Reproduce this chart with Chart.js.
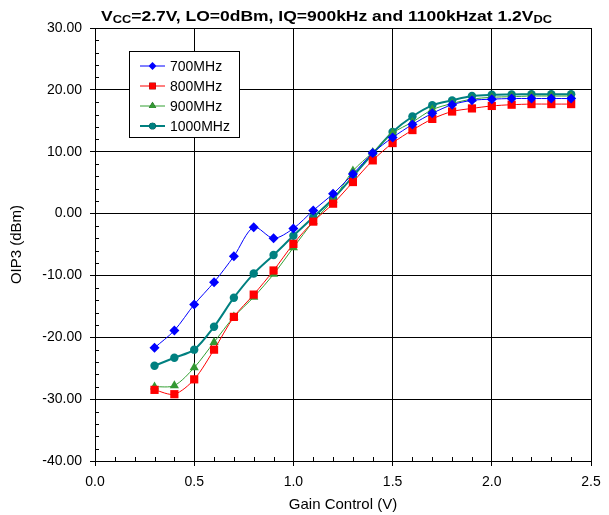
<!DOCTYPE html>
<html>
<head>
<meta charset="utf-8">
<script src="https://cdn.jsdelivr.net/npm/chart.js@4.4.1/dist/chart.umd.min.js"></script>
<style>
  html, body { margin: 0; padding: 0; background: #fff; }
  #wrap { width: 609px; height: 515px; position: relative; }
</style>
</head>
<body>
<div id="wrap"><canvas id="c" width="609" height="515"></canvas></div>
<script>
const gainControl = [0.3,0.4,0.5,0.6,0.7,0.8,0.9,1.0,1.1,1.2,1.3,1.4,1.5,1.6,1.7,1.8,1.9,2.0,2.1,2.2,2.3,2.4];
const s700  = [-21.7,-18.9,-14.7,-11.1,-6.9,-2.2,-4.0,-2.4,0.5,3.2,6.4,9.8,12.3,14.4,16.2,17.6,18.3,18.5,18.6,18.6,18.6,18.6];
const s800  = [-28.5,-29.2,-26.8,-22.0,-16.7,-13.1,-9.2,-4.9,-1.3,1.6,5.1,8.6,11.4,13.5,15.3,16.5,17.0,17.4,17.6,17.7,17.7,17.7];
const s900  = [-28.0,-27.8,-24.9,-20.8,-16.7,-13.5,-9.8,-5.5,-1.3,2.2,6.9,9.9,13.0,14.8,16.8,17.8,18.5,18.8,18.9,19.0,19.0,19.0];
const s1000 = [-24.6,-23.3,-22.0,-18.3,-13.6,-9.7,-6.7,-3.6,-0.6,2.4,6.0,9.7,13.2,15.7,17.5,18.3,19.0,19.2,19.25,19.3,19.3,19.3];
const seriesLabels = ['700MHz','800MHz','900MHz','1000MHz'];
const xTicks = [0.0,0.5,1.0,1.5,2.0,2.5];
const yTicks = [-40,-30,-20,-10,0,10,20,30];

const FONT = '"Liberation Sans", Arial, sans-serif';
const toPts = arr => arr.map((v,i) => ({x: gainControl[i], y: v}));

const styles = [
  {color:'#0000FF', line:'#0000FF', pt:'rectRot', r:5, bw:1},
  {color:'#FF0000', line:'#FF0000', pt:'rect', r:5.8, bw:1},
  {color:'#339933', line:'#33A033', pt:'triangle', r:5.3, bw:1},
  {color:'#008080', line:'#008080', pt:'circle', r:4.2, bw:2}
];
const allSeries = [s700, s800, s900, s1000];

const datasets = allSeries.map((s,i) => ({
  label: seriesLabels[i],
  data: toPts(s),
  borderColor: styles[i].line,
  backgroundColor: styles[i].color,
  borderWidth: styles[i].bw,
  pointStyle: styles[i].pt,
  pointRadius: styles[i].r,
  pointBorderWidth: 0,
  pointBackgroundColor: styles[i].color,
  tension: 0.3
}));

const decor = {
  id: 'decor',
  afterDraw(chart) {
    const ctx = chart.ctx;
    const xs = chart.scales.x, ys = chart.scales.y;
    const a = chart.chartArea;
    ctx.save();
    // minor ticks
    ctx.strokeStyle = '#000'; ctx.lineWidth = 1;
    ctx.beginPath();
    for (let k = 1; k < 25; k++) {
      if (k % 5 === 0) continue;
      const px = Math.round(xs.getPixelForValue(k/10)) + 0.5;
      ctx.moveTo(px, a.bottom); ctx.lineTo(px, a.bottom - 4);
    }
    for (let v = -38; v < 30; v += 2) {
      if (v % 10 === 0) continue;
      const py = Math.round(ys.getPixelForValue(v)) + 0.5;
      ctx.moveTo(a.left, py); ctx.lineTo(a.left + 4, py);
    }
    ctx.stroke();
    // title with subscripts
    const parts = [
      ['V', 0], ['CC', 1], ['=2.7V, LO=0dBm, IQ=900kHz and 1100kHzat 1.2V', 0], ['DC', 1]
    ];
    const big = 'bold 15px ' + FONT, small = 'bold 11px ' + FONT;
    let w = 0;
    parts.forEach(p => { ctx.font = p[1] ? small : big; w += ctx.measureText(p[0]).width; });
    const targetW = 451, startX = 101;
    const sx = targetW / w;
    ctx.save();
    ctx.translate(startX, 0);
    ctx.scale(sx, 1);
    let x = 0;
    const base = 20.5;
    ctx.fillStyle = '#000'; ctx.textBaseline = 'alphabetic'; ctx.textAlign = 'left';
    parts.forEach(p => {
      ctx.font = p[1] ? small : big;
      ctx.fillText(p[0], x, p[1] ? base + 2.5 : base);
      x += ctx.measureText(p[0]).width;
    });
    ctx.restore();
    // legend
    const lx = 129, ly = 51, lw = 110, lh = 86;
    ctx.fillStyle = '#fff';
    ctx.fillRect(lx, ly, lw, lh);
    ctx.strokeStyle = '#000'; ctx.lineWidth = 1;
    ctx.strokeRect(lx + 0.5, ly + 0.5, lw, lh);
    ctx.font = '14px ' + FONT;
    ctx.textBaseline = 'middle';
    chart.data.datasets.forEach((ds, i) => {
      const yy = 66 + i * 20;
      ctx.strokeStyle = ds.borderColor; ctx.lineWidth = ds.borderWidth;
      ctx.beginPath(); ctx.moveTo(140, yy); ctx.lineTo(165, yy); ctx.stroke();
      Chart.helpers.drawPoint(ctx, {pointStyle: ds.pointStyle, radius: ds.pointRadius * 0.8, borderWidth: 0, rotation: 0}, 152.5, yy);
      ctx.fillStyle = ds.pointBackgroundColor;
      ctx.fill();
      ctx.fillStyle = '#000';
      ctx.fillText(ds.label, 170, yy + 1);
    });
    ctx.restore();
  }
};

new Chart(document.getElementById('c'), {
  type: 'line',
  data: { datasets },
  options: {
    responsive: false,
    animation: false,
    devicePixelRatio: 1,
    layout: { padding: { left: 0, top: 28, right: 18, bottom: 0 } },
    plugins: { legend: { display: false }, title: { display: false }, tooltip: { enabled: false } },
    scales: {
      x: {
        type: 'linear', min: 0, max: 2.5,
        afterBuildTicks: s => { s.ticks = xTicks.map(v => ({value: v})); },
        afterFit: s => { s.height = 54; },
        grid: { color: '#000', lineWidth: 1, tickLength: 5, drawTicks: true },
        border: { color: '#000', width: 1 },
        ticks: { color: '#000', font: { family: FONT, size: 14 }, padding: 8, maxRotation: 0, callback: v => Number(v).toFixed(1) },
        title: { display: true, text: 'Gain Control (V)', color: '#000', font: { family: FONT, size: 15 }, padding: { top: 2, bottom: 1 } }
      },
      y: {
        type: 'linear', min: -40, max: 30,
        afterBuildTicks: s => { s.ticks = yTicks.map(v => ({value: v})); },
        afterFit: s => { s.width = 95; },
        grid: { color: '#000', lineWidth: 1, tickLength: 5 },
        border: { color: '#000', width: 1 },
        ticks: { color: '#000', font: { family: FONT, size: 14 }, padding: 8, callback: v => Number(v).toFixed(2) },
        title: { display: true, text: 'OIP3 (dBm)', color: '#000', font: { family: FONT, size: 15 }, padding: { top: 8, bottom: 4 } }
      }
    }
  },
  plugins: [decor]
});
</script>
</body>
</html>
